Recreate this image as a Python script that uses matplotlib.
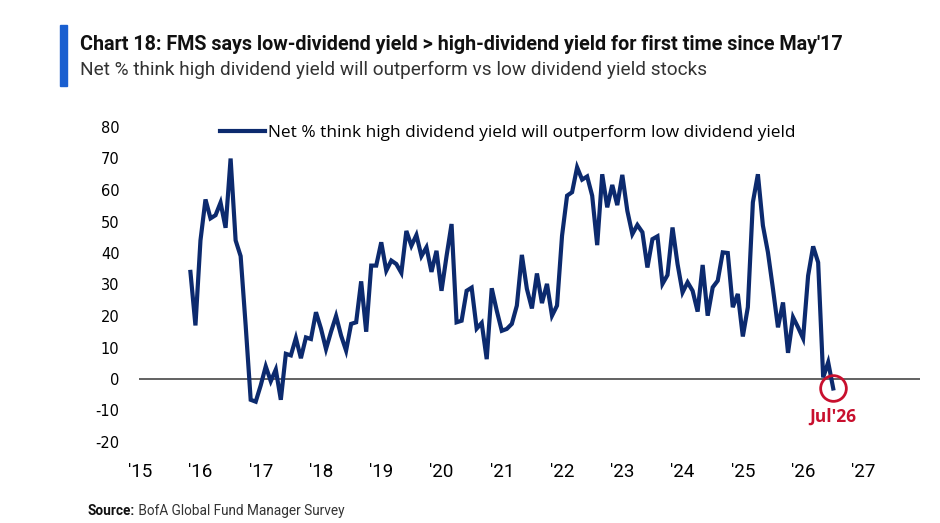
import matplotlib
matplotlib.use("Agg")
import matplotlib.pyplot as plt
from matplotlib.patches import Rectangle

# ---- data (monthly, Nov 2015 .. Jul 2026) ----
start_year = 2015
start_month = 11
values = [
    34, 17, 44, 57, 51, 52, 56, 48, 70, 44, 39, 17, -6.6, -7.2, -2, 4, -0.7, 3, -6.6,
    8, 7.5, 13, 6.6, 13.2, 12.7, 21.2, 16, 9.5, 15, 20, 13.8, 9, 17.5, 18, 31, 15,
    36, 36, 43.4, 34.4, 37.6, 36.5, 33.7, 47, 42.3, 45.7, 39, 41.8, 34, 40.7, 28, 39,
    49.2, 18, 18.5, 28, 29, 16, 17.8, 6.3, 28.8, 21.7, 15.3, 15.9, 17.5, 23.3, 39.4,
    28.6, 22.4, 33.5, 24.1, 30.2, 20.1, 23.3, 45.5, 58.2, 59.3, 67.2, 63.3, 64.3,
    58.2, 42.5, 65, 54.5, 61.6, 55.2, 64.8, 53.4, 46, 48.9, 46.6, 35.4, 44.4, 45.3,
    30.2, 33, 48.1, 36.5, 27.5, 30.7, 28, 21.4, 36.2, 20.1, 29.1, 31.2, 40.2, 40,
    22.8, 27, 13.5, 22.8, 56.1, 65, 48.7, 40.2, 28.6, 16.4, 24.3, 8.3, 19.6, 16.4,
    12.9, 32.8, 42.1, 37, 0.5, 5.3, -3,
]
series_label = "Net % think high dividend yield will outperform low dividend yield"
x_tick_years = list(range(2015, 2028))
x_tick_labels = ["'%02d" % (y % 100) for y in x_tick_years]
y_ticks = list(range(-20, 81, 10))
title = "Chart 18: FMS says low-dividend yield > high-dividend yield for first time since May'17"
subtitle = "Net % think high dividend yield will outperform vs low dividend yield stocks"
source_bold = "Source:"
source_rest = " BofA Global Fund Manager Survey"
highlight_label = "Jul'26"

x = [start_year + (start_month - 1 + i) / 12.0 for i in range(len(values))]

NAVY = "#0c2a6e"
RED = "#c8102e"
narrow = ["Roboto", "DejaVu Sans"]
W, H = 940, 523

fig = plt.figure(figsize=(W / 100, H / 100), dpi=100)
ax = fig.add_axes([139 / W, (H - 442) / H, (920 - 139) / W, (442 - 127) / H])

ax.plot(x, values, color=NAVY, lw=3.0, solid_joinstyle="miter", label=series_label, zorder=3)
ax.axhline(0, color="#555555", lw=1.3, zorder=2)
ax.plot([x[-1]], [values[-1]], marker="o", ms=18.5, mfc="none", mec=RED, mew=2.0, zorder=4)
ax.annotate(highlight_label, xy=(x[-1], values[-1]), xytext=(0, -20), textcoords="offset points",
            ha="center", va="center", color=RED, fontsize=12.5, fontweight="bold",
            family=["Open Sans", "DejaVu Sans"])

ax.set_xlim(2014.98, 2027.94)
ax.set_ylim(-20, 80)
ax.set_xticks(x_tick_years)
ax.set_xticklabels(x_tick_labels, family=narrow, fontsize=13.5)
ax.set_yticks(y_ticks)
ax.set_yticklabels([str(v) for v in y_ticks], family=["DejaVu Sans"], fontsize=10.5)
ax.tick_params(axis="both", length=0)
ax.tick_params(axis="y", pad=14)
ax.tick_params(axis="x", pad=15)
for s in ax.spines.values():
    s.set_visible(False)

leg = fig.legend(loc="center left", bbox_to_anchor=(220 / W, 1 - 133 / H), frameon=False,
                 handlelength=2.7, handletextpad=0.2, borderpad=0, borderaxespad=0,
                 prop={"family": ["Open Sans", "DejaVu Sans"], "size": 12})

fig.canvas.draw()
renderer = fig.canvas.get_renderer()


def fit(txt, target_px):
    for _ in range(3):
        w = txt.get_window_extent(renderer).width
        txt.set_fontsize(txt.get_fontsize() * target_px / w)


lt = leg.get_texts()[0]
fit(lt, 530)

# header
fig.patches.append(Rectangle((60 / W, 1 - 86 / H), 7 / W, 61 / H, transform=fig.transFigure,
                             color="#1a5fd0", zorder=5))
tt = fig.text(80 / W, 1 - 44 / H, title, ha="left", va="center", fontsize=15, fontweight="bold",
              family=narrow, color="#111111")
fit(tt, 768)
st = fig.text(80 / W, 1 - 70 / H, subtitle, ha="left", va="center", fontsize=14,
              family=narrow, color="#333333")
fit(st, 623)

# source line: total span 88..345 px
fs = 11.5
t1 = fig.text(88 / W, 1 - 511 / H, source_bold, ha="left", va="center", fontsize=fs,
              fontweight="bold", family=narrow, color="#111111")
t2 = fig.text(0, 1 - 511 / H, source_rest, ha="left", va="center", fontsize=fs,
              family=narrow, color="#333333")
for _ in range(3):
    b1 = t1.get_window_extent(renderer)
    t2.set_x(b1.x1 / W)
    b2 = t2.get_window_extent(renderer)
    total = b2.x1 - b1.x0
    fs = fs * 257 / total
    t1.set_fontsize(fs)
    t2.set_fontsize(fs)
b1 = t1.get_window_extent(renderer)
t2.set_x(b1.x1 / W)

fig.savefig("out.png", dpi=100)
